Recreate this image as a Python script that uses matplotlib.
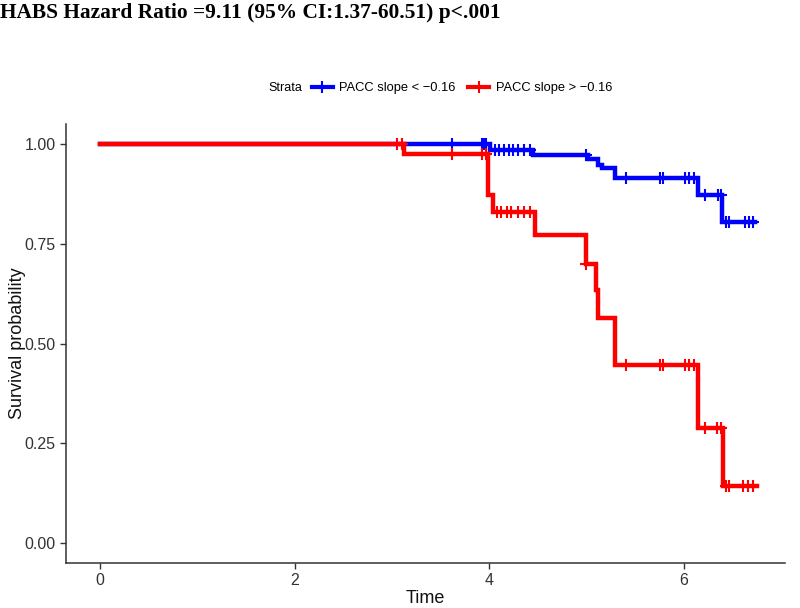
import numpy as np
import matplotlib.pyplot as plt
from matplotlib.lines import Line2D

plt.rcParams['font.family'] = ['Liberation Sans', 'DejaVu Sans']

title = 'HABS Hazard Ratio =9.11 (95% CI:1.37-60.51) p<.001'
labels = ['PACC slope < \u22120.16', 'PACC slope > \u22120.16']
colors = ['#0000ff', '#ff0000']

# step times / survival for each stratum
low_t = [0, 4.01, 4.45, 5.02, 5.12, 5.16, 5.29, 6.15, 6.39]
low_s = [1.0, 0.985, 0.972, 0.962, 0.947, 0.94, 0.915, 0.872, 0.805]
low_end = 6.73
low_cens = [3.62, 3.93, 3.95, 3.97, 4.06, 4.1, 4.15, 4.2, 4.25, 4.3, 4.36, 4.42,
            5.0, 5.41, 5.76, 5.79, 6.01, 6.06, 6.11, 6.22, 6.35, 6.38,
            6.44, 6.47, 6.63, 6.67, 6.71]

high_t = [0, 3.13, 3.99, 4.04, 4.47, 5.0, 5.1, 5.12, 5.29, 6.15, 6.40]
high_s = [1.0, 0.975, 0.872, 0.83, 0.772, 0.70, 0.634, 0.564, 0.446, 0.288, 0.143]
high_end = 6.75
high_cens = [3.05, 3.1, 3.62, 3.93, 3.97, 4.08, 4.12, 4.18, 4.22, 4.3, 4.36, 4.42,
             5.0, 5.41, 5.76, 5.79, 6.01, 6.06, 6.11, 6.22, 6.34, 6.38,
             6.44, 6.47, 6.61, 6.66, 6.71]

fig = plt.figure(figsize=(8, 6.08), dpi=100)
ax = fig.add_axes([0.0825, 0.074, 0.8985, 0.722])

for t, s, end, cens, c in [(low_t, low_s, low_end, low_cens, colors[0]),
                           (high_t, high_s, high_end, high_cens, colors[1])]:
    tt = np.append(t, end)
    ss = np.append(s, s[-1])
    ax.step(tt, ss, where='post', color=c, lw=3.2, solid_joinstyle='miter')
    idx = np.searchsorted(t, cens, side='right') - 1
    ax.plot(cens, np.array(s)[idx], ls='none', marker='+', ms=8, mew=1.5, color=c)

ax.set_xlim(-0.35, 7.04)
ax.set_ylim(-0.05, 1.05)
ax.set_xticks([0, 2, 4, 6])
ax.set_yticks([0, 0.25, 0.5, 0.75, 1.0])
ax.set_yticklabels(['0.00', '0.25', '0.50', '0.75', '1.00'])
for sp in ['top', 'right']:
    ax.spines[sp].set_visible(False)
for sp in ['left', 'bottom']:
    ax.spines[sp].set_color('#333333')
    ax.spines[sp].set_linewidth(1.1)
ax.tick_params(colors='#333333', labelsize=11.5, length=4, width=1, labelcolor='#333333')
ax.set_xlabel('Time', fontsize=13, color='#111111', labelpad=1)
ax.set_ylabel('Survival probability', fontsize=13, color='#111111', labelpad=-1)

fig.text(0.0, 0.978, title, fontsize=15.4, fontweight='bold',
         family='Liberation Serif', ha='left', va='center')

handles = [Line2D([], [], color=c, lw=3, marker='+', ms=8, mew=1.5) for c in colors]
fig.text(0.336, 0.855, 'Strata', fontsize=9, ha='left', va='center')
fig.legend(handles, labels, ncol=2, loc='center left', bbox_to_anchor=(0.39, 0.855),
           frameon=False, fontsize=9.3, handlelength=1.6, handletextpad=0.5,
           columnspacing=1.0, borderpad=0, borderaxespad=0)

plt.savefig('out.png')
